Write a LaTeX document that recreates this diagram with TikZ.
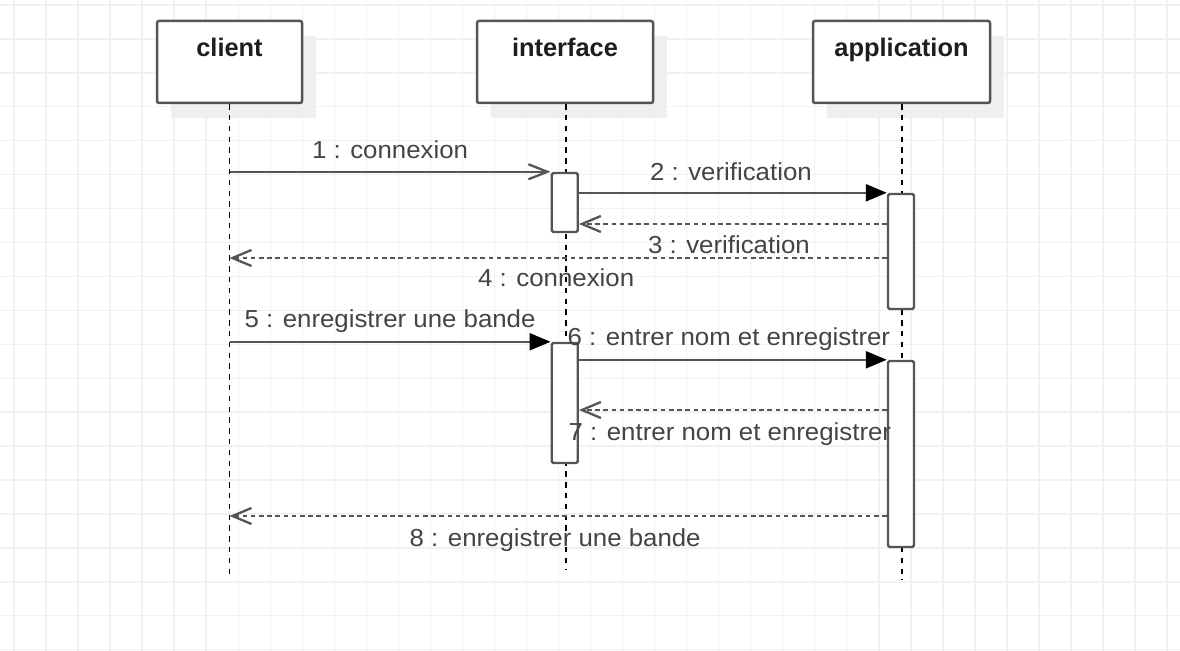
\documentclass[tikz,border=0pt]{standalone}
\usepackage{fontspec}
\setmainfont{Liberation Sans}
\newfontfamily\lblfont[FakeStretch=1.05]{Liberation Sans}
\usetikzlibrary{arrows.meta,calc}
\definecolor{gridc}{HTML}{F1F1F1}
\definecolor{shadowc}{HTML}{EFEFEF}
\definecolor{linec}{HTML}{555555}
\definecolor{txtc}{HTML}{444444}
\definecolor{titlec}{HTML}{1E1E1E}
\tikzset{
  gridline/.style={draw=gridc, line width=0.7pt},
  hdrbox/.style={draw=linec, fill=white, line width=1.25pt, rounded corners=1pt, minimum height=41pt, inner sep=0pt},
  hdrshadow/.style={fill=shadowc, minimum height=41pt, inner sep=0pt},
  hdrtitle/.style={font=\fontsize{12.7}{15}\selectfont\bfseries, text=titlec, inner sep=0pt, anchor=base},
  actbox/.style={draw=linec, fill=white, line width=1.2pt, rounded corners=0.8pt, minimum width=13pt, inner sep=0pt},
  lifeline/.style={draw=black, line width=0.8pt, dash pattern=on 2.7pt off 2.7pt},
  msgline/.style={draw=linec, line width=1.15pt},
  synctip/.style={-{Triangle[length=10.5pt,width=8.5pt,color=black]}},
  opentip/.style={-{Straight Barb[length=9.5pt,width=7.5pt]}},
  retline/.style={draw=linec, line width=1.15pt, dash pattern=on 2.3pt off 1.8pt, -{Straight Barb[length=9.5pt,width=8pt]}},
  lbl/.style={font=\lblfont\fontsize{12.3}{14}\selectfont, text=txtc, inner sep=0pt, anchor=base}
}
\begin{document}
\begin{tikzpicture}[x=0.5pt,y=-0.5pt]
\useasboundingbox (0,0) rectangle (1180,651);
% background grid
\foreach \i in {0,...,36} \draw[gridline] ({14+32.03*\i},0) -- ({14+32.03*\i},651);
\foreach \j in {0,...,19} \draw[gridline] (0,{5+33.93*\j}) -- (1180,{5+33.93*\j});
% shadows of lifeline heads
\node[hdrshadow, minimum width=72.5pt] (clientS) at (243.5,77) {};
\node[hdrshadow, minimum width=88pt] (interfaceS) at (579,77) {};
\node[hdrshadow, minimum width=88.5pt] (applicationS) at (915.5,77) {};
% lifeline heads
\node[hdrbox, minimum width=72.5pt] (client) at (229.5,62) {};
\node[hdrbox, minimum width=88pt] (interface) at (565,62) {};
\node[hdrbox, minimum width=88.5pt] (application) at (901.5,62) {};
\node[hdrtitle] (clientT) at (229.5,57) {client};
\node[hdrtitle] (interfaceT) at (565,57) {interface};
\node[hdrtitle] (applicationT) at (901.5,57) {application};
% lifelines
\coordinate (clientEnd) at (229.5,579);
\coordinate (interfaceEnd) at (566,569);
\coordinate (applicationEnd) at (902,580);
\draw[lifeline] (client.south) -- (clientEnd);
\draw[lifeline] (interface.south -| interfaceEnd) -- (interfaceEnd);
\draw[lifeline] (application.south -| applicationEnd) -- (applicationEnd);
% activations
\node[actbox, minimum height=29.5pt] (act1) at (564.75,202.5) {};
\node[actbox, minimum height=57.5pt] (act2) at (901,251.5) {};
\node[actbox, minimum height=60pt] (act3) at (564.75,403) {};
\node[actbox, minimum height=93pt] (act4) at (901,454) {};
% message levels
\coordinate (y3) at (0,224);
\coordinate (y4) at (0,258);
\coordinate (y7) at (0,410);
\coordinate (y8) at (0,516);
% messages
\draw[msgline, opentip] (client |- act1.north) -- (act1.north west);
\draw[msgline, synctip] (act1.east |- act2.north) -- (act2.north west);
\draw[retline] (act2.west |- y3) -- (act1.east |- y3);
\draw[retline] (act2.west |- y4) -- (client |- y4);
\draw[msgline, synctip] (client |- act3.north) -- (act3.north west);
\draw[msgline, synctip] (act3.east |- act4.north) -- (act4.north west);
\draw[retline] (act4.west |- y7) -- (act3.east |- y7);
\draw[retline] (act4.west |- y8) -- (client |- y8);
% labels
\node[lbl] (l1) at ($(client |- act1.north)!0.5!(act1.north west) + (0,-13)$) {1 : connexion};
\node[lbl] (l2) at ($(act1.east |- act2.north)!0.5!(act2.north west) + (-2,-12)$) {2 : verification};
\node[lbl] (l3) at ($(act2.west |- y3)!0.5!(act1.east |- y3) + (-4,29.3)$) {3 : verification};
\node[lbl] (l4) at ($(act2.west |- y4)!0.5!(client |- y4) + (-2,29)$) {4 : connexion};
\node[lbl] (l5) at ($(client |- act3.north)!0.5!(act3.north west) + (0,-14)$) {5 : enregistrer une bande};
\node[lbl] (l6) at ($(act3.east |- act4.north)!0.5!(act4.north west) + (-4,-14)$) {6 : entrer nom et enregistrer};
\node[lbl] (l7) at ($(act4.west |- y7)!0.5!(act3.east |- y7) + (-3,30.7)$) {7 : entrer nom et enregistrer};
\node[lbl] (l8) at ($(act4.west |- y8)!0.5!(client |- y8) + (-3,30.7)$) {8 : enregistrer une bande};
\end{tikzpicture}
\end{document}
